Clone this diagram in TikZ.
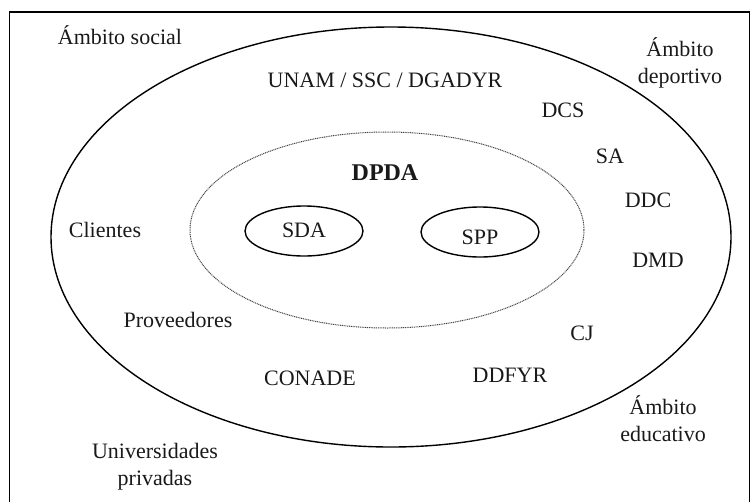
\documentclass[tikz,border=0pt]{standalone}
\usepackage{fontspec}
\setmainfont{Liberation Serif}
\usetikzlibrary{shapes.geometric}
\begin{document}
\begin{tikzpicture}[x=1pt,y=-1pt,
  lbl/.style={font=\fontsize{22}{27}\selectfont, align=center, inner sep=0pt, text=black!90},
  ring/.style={ellipse, draw, line width=1.4pt, inner sep=0pt},
  core/.style={ellipse, draw=black!75, line width=1pt, dash pattern=on 1pt off 0.8pt, inner sep=0pt}]
  \useasboundingbox (0,0) rectangle (751,501);
  \begin{scope}
    \clip (0,0) rectangle (751,501);
    % outer frame, its lower edge lies below the page
    \draw[line width=1.4pt] (9.5,12) rectangle (749.5,540);
  \end{scope}
  % nested areas
  \node[ring, minimum width=680pt, minimum height=420pt] (outer) at (391,237) {};
  \node[core, minimum width=394pt, minimum height=196pt] (dpdaarea) at (387,230) {};
  \node[ring, minimum width=118pt, minimum height=50pt] (sdaring) at (304,231) {};
  \node[ring, minimum width=118pt, minimum height=50pt] (sppring) at (480,232) {};
  % labels
  \node[lbl] (social) at (120,35) {Ámbito social};
  \node[lbl] (deport) at (680,63) {Ámbito\\deportivo};
  \node[lbl] (educ) at (663,419) {Ámbito\\educativo};
  \node[lbl] (univ) at (155,467) {Universidades\\privadas};
  \node[lbl] (unam) at (385,80) {UNAM / SSC / DGADYR};
  \node[lbl] (dcs) at (563,110) {DCS};
  \node[lbl] (sa) at (610,156) {SA};
  \node[lbl] (ddc) at (648,200) {DDC};
  \node[lbl] (dmd) at (658,260) {DMD};
  \node[lbl, font=\fontsize{24}{28}\selectfont\bfseries] (dpda) at (385,173) {DPDA};
  \node[lbl] (sda) at (304,230) {SDA};
  \node[lbl] (spp) at (480,237) {SPP};
  \node[lbl] (clientes) at (105,230) {Clientes};
  \node[lbl] (prov) at (178,320) {Proveedores};
  \node[lbl] (conade) at (310,378) {CONADE};
  \node[lbl] (ddfyr) at (510,375) {DDFYR};
  \node[lbl] (cj) at (582,333) {CJ};
\end{tikzpicture}
\end{document}
